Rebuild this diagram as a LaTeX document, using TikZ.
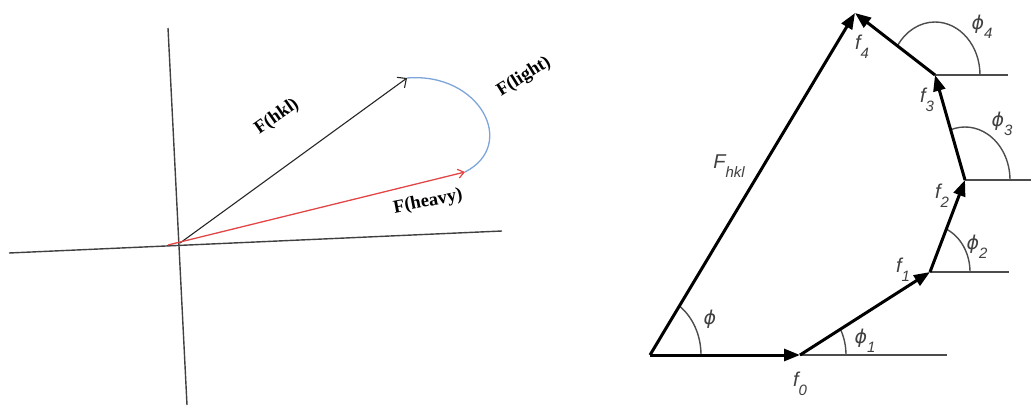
\documentclass[tikz,border=0pt]{standalone}
\usepackage{fontspec}
\setmainfont{Liberation Serif}
\newfontfamily\arialf{Liberation Sans}
\newfontfamily\phifont{DejaVu Sans}
\usetikzlibrary{arrows.meta}
\definecolor{lightblue}{RGB}{125,165,218}
\definecolor{heavyred}{RGB}{226,70,70}
\newcommand{\lowsub}[1]{\raisebox{-0.45em}{\fontsize{15}{15}\selectfont #1}}
\newcommand{\myphi}{{\phifont\itshape\fontsize{19}{19}\selectfont ϕ}}
\begin{document}
\begin{tikzpicture}[x=1pt,y=1pt,
  axisline/.style={draw=black!75,line width=1.4pt},
  hklvec/.style={draw=black!85,line width=1.1pt,-{Straight Barb[length=7pt,width=13pt,line width=1.1pt]}},
  heavyvec/.style={draw=heavyred,line width=1.3pt,-{Straight Barb[length=6pt,width=9pt,line width=1.2pt]}},
  lightarc/.style={draw=lightblue,line width=1.3pt},
  leftlbl/.style={font=\fontsize{18.5}{18.5}\selectfont\bfseries,text=black,inner sep=0pt},
  bigvec/.style={draw=black,line width=3pt,-{Triangle[length=16pt,width=12pt]}},
  refline/.style={draw=black!70,line width=1.4pt},
  anglearc/.style={draw=black!70,line width=1.4pt},
  rightlbl/.style={font=\arialf\itshape\fontsize{20}{20}\selectfont,text=black!75,inner sep=0pt}
]
\useasboundingbox (0,0) rectangle (1033,405);
% ---------- left diagram ----------
\coordinate (vtop) at (168,377);
\coordinate (vbot) at (187,0);
\coordinate (hleft) at (9,152);
\coordinate (hright) at (502,174);
\coordinate (OL) at (180,162);
\coordinate (redstart) at (168,160);
\coordinate (hkltip) at (407,327);
\coordinate (heavytip) at (465,233);
\draw[axisline] (vtop) -- (vbot);
\draw[axisline] (hleft) -- (hright);
\draw[lightarc] (hkltip) .. controls (480,333) and (518,260) .. (heavytip);
\draw[hklvec] (OL) -- (hkltip);
\draw[heavyvec] (redstart) -- (heavytip);
\node[leftlbl,rotate=35] (lhkl) at (277,288) {F(hkl)};
\node[leftlbl,rotate=32] (llight) at (524,328) {F(light)};
\node[leftlbl,rotate=11] (lheavy) at (428,203) {F(heavy)};
% ---------- right diagram ----------
\coordinate (O) at (650,50);
\coordinate (P0) at (800,50);
\coordinate (P1) at (930,133);
\coordinate (P2) at (965,225);
\coordinate (P3) at (935,330);
\coordinate (P4) at (855,392);
\coordinate (R0) at (947,50);
\coordinate (R1) at (1009,133);
\coordinate (R2) at (1031,225);
\coordinate (R3) at (1008,330);
\draw[refline] (P0) -- (R0);
\draw[refline] (P1) -- (R1);
\draw[refline] (P2) -- (R2);
\draw[refline] (P3) -- (R3);
% angle arcs (slightly elliptical, as in the reference)
\draw[anglearc] (O) ++(51,0) arc[start angle=0,end angle=54.8,x radius=51,y radius=60];
\draw[anglearc] (P0) ++(46,0) arc[start angle=0,end angle=28.5,x radius=46,y radius=54];
\draw[anglearc] (P1) ++(40,0) arc[start angle=0,end angle=65.9,x radius=40,y radius=47];
\draw[anglearc] (P2) ++(45,0) arc[start angle=0,end angle=108.6,x radius=45,y radius=53];
\draw[anglearc] (P3) ++(45,0) arc[start angle=0,end angle=146.7,x radius=45,y radius=53];
% vectors
\draw[bigvec] (O) -- (P0);
\draw[bigvec] (P0) -- (P1);
\draw[bigvec] (P1) -- (P2);
\draw[bigvec] (P2) -- (P3);
\draw[bigvec] (P3) -- (P4);
\draw[bigvec] (O) -- (P4);
% labels
\node[rightlbl] (lf0) at (800,21) {f\lowsub{0}};
\node[rightlbl] (lf1) at (903,135) {f\lowsub{1}};
\node[rightlbl] (lf2) at (942,209) {f\lowsub{2}};
\node[rightlbl] (lf3) at (927,305) {f\lowsub{3}};
\node[rightlbl] (lf4) at (862,358) {f\lowsub{4}};
\node[rightlbl] (lF) at (729,239) {F\lowsub{hkl}};
\node[rightlbl] (lphi) at (710,86) {\myphi};
\node[rightlbl] (lphi1) at (865,64) {\myphi\lowsub{1}};
\node[rightlbl] (lphi2) at (977,158) {\myphi\lowsub{2}};
\node[rightlbl] (lphi3) at (1002,281) {\myphi\lowsub{3}};
\node[rightlbl] (lphi4) at (982,378) {\myphi\lowsub{4}};
\end{tikzpicture}
\end{document}
